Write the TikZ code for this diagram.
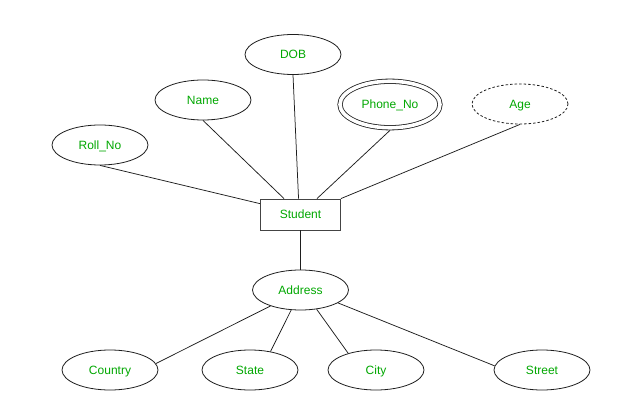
\documentclass[tikz,border=0pt]{standalone}
\usepackage{fontspec}
\setmainfont{Liberation Sans}
\usetikzlibrary{shapes.geometric}
\definecolor{label}{HTML}{00A800}
\definecolor{edge}{HTML}{1E1E1E}
\definecolor{frame}{HTML}{444444}
\tikzset{
  attr/.style={ellipse, draw=edge, line width=0.8pt, fill=white, minimum width=96pt, minimum height=40pt, inner sep=0pt},
  multi/.style={attr, double, double distance=3.6pt, minimum width=100pt, minimum height=46.5pt, outer sep=2.6pt},
  derived/.style={attr, dash pattern=on 2.5pt off 2pt},
  entity/.style={rectangle, draw=frame, line width=0.8pt, fill=white, minimum width=80pt, minimum height=31pt, inner sep=0pt},
  link/.style={draw=edge, line width=0.75pt},
  every node/.style={text=label, font=\fontsize{12}{14}\selectfont, text height=8.6pt, text depth=0pt}
}

\begin{document}
\begin{tikzpicture}[x=1pt,y=-1pt]
  \useasboundingbox (0,0) rectangle (621,403);

  \node[entity] (student) at (300.5,214.5) {Student};

  % attributes of Student
  \node[attr] (rollno) at (100,145) {Roll\_No};
  \node[attr] (name) at (203,100) {Name};
  \node[attr] (dob) at (293,54.5) {DOB};
  \node[multi] (phone) at (390,104.5) {Phone\_No};
  \node[derived] (age) at (520,104) {Age};

  % composite attribute
  \node[attr] (address) at (300.5,290) {Address};
  \node[attr] (country) at (110,370) {Country};
  \node[attr] (state) at (250,370) {State};
  \node[attr] (city) at (376,370) {City};
  \node[attr] (street) at (542,370) {Street};

  \draw[link] (rollno.south) -- (student.165);
  \draw[link] (name.south) -- (student.136);
  \draw[link] (dob.south) -- (student.97);
  \draw[link] (phone.south) -- (student.44);
  \draw[link] (age.south) -- (student.north east);
  \draw[link] (student.south) -- (address.north);

  \draw[link] (address.208) -- (country.8);
  \draw[link] (address.245) -- (state.42);
  \draw[link] (address.310) -- (city.149);
  \draw[link] (address.341) -- (street.175);
\end{tikzpicture}
\end{document}
